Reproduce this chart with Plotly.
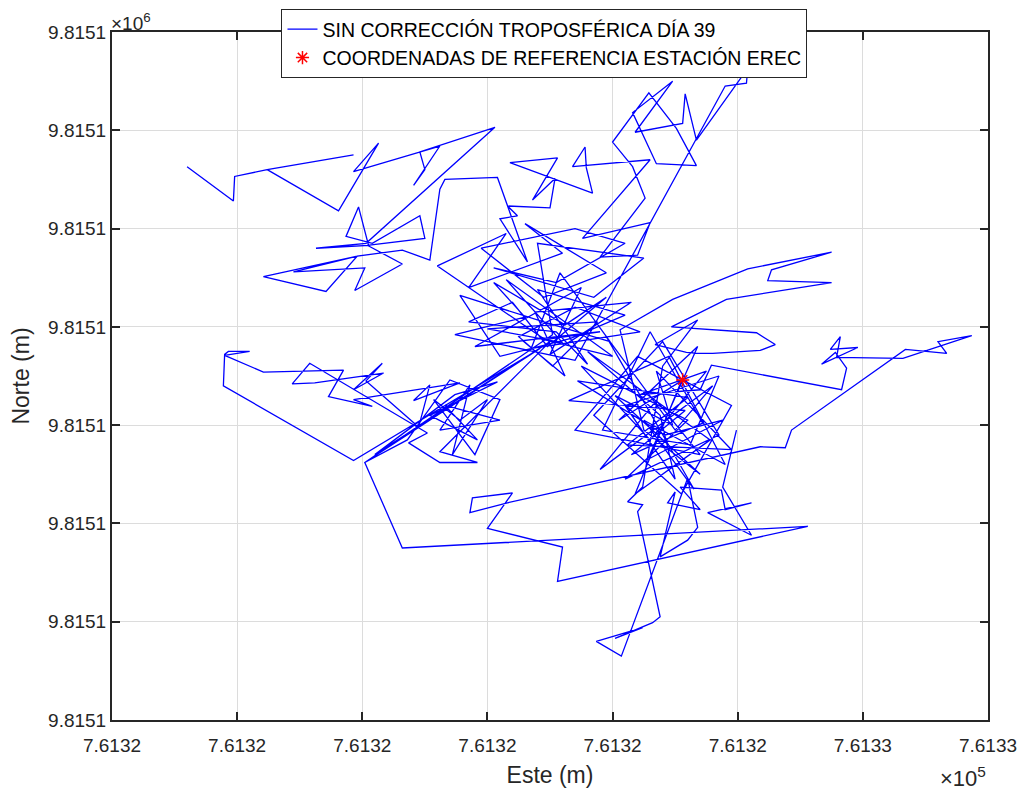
import plotly.graph_objects as go

# Reference origin of the local grid (metres, UTM)
E0 = 761319.2
N0 = 9815096.0

# Track positions as (east offset m, north offset m) from (E0, N0), in time order
seg_a = [(0.60,5.63),(0.97,5.28),(0.98,5.53),(1.24,5.60),(1.93,5.75),(1.24,5.60),(1.81,5.18),(2.13,5.87),
         (1.93,5.58),(2.62,5.84),(2.41,5.44),(2.50,5.60),(2.46,5.78),(3.06,6.03),(2.03,4.85)]
seg_b = [(1.63,4.80),(2.05,4.83),(1.97,5.22),(1.87,4.92),(2.08,4.85),(2.46,5.13),(2.50,4.90),(2.04,4.83),
         (2.32,4.64),(1.94,4.37),(2.02,4.60),(1.45,4.56),(1.96,4.72),(1.21,4.51),(1.71,4.36),(1.96,4.72),
         (2.32,4.78),(2.54,4.68)]
seg_c = [(2.62,5.40),(2.66,5.50),(3.08,5.52),(3.32,4.66),(3.10,5.10),(3.24,5.13),(3.16,5.23),(3.50,5.21),
         (3.54,5.51),(3.36,5.29),(3.56,5.72),(3.18,5.67),(3.84,5.36),(3.79,5.62),(3.78,5.83),(3.68,5.63),
         (4.30,5.70),(3.76,4.90),(4.30,5.06),(4.20,4.73),(3.90,4.71)]
seg_d = [(4.26,5.31),(4.16,5.63),(4.00,5.88),(4.29,6.38),(4.51,6.02),(4.67,5.64),(4.35,5.66),(4.16,6.18),
         (4.48,6.50),(4.18,5.98),(4.56,6.07),(4.58,6.37),(4.67,5.90),(5.08,6.63),(5.07,6.48),(4.90,6.45),
         (3.70,3.66)]
seg_upper = [(2.74,3.92),(3.30,4.10),(3.05,4.45),(3.62,4.02),(3.95,4.30),(3.48,3.80),(3.20,4.25),(2.85,4.05),
             (3.55,3.95),(3.80,3.62),(3.40,4.38),(4.10,4.12),(3.66,3.88),(3.10,3.70),(2.78,4.32),(3.45,4.05),
             (3.98,3.85),(3.58,4.55),(3.35,3.78),(4.22,3.95),(3.70,4.20),(3.25,3.90),(3.52,3.60),(3.88,4.05),
             (3.00,3.98),(3.60,3.84),(3.15,4.48),(4.00,3.70),(3.42,3.88),(2.90,3.80),(3.75,4.40),(3.50,3.72),
             (4.15,4.25),(3.38,4.15),(3.62,3.50),(3.28,3.86),(3.90,3.95),(3.46,3.87)]
seg_upper_mid = [(2.60,4.62),(3.15,4.95),(2.85,4.40),(3.60,4.75),(3.30,5.05),(3.95,4.55),(3.45,4.30),
                 (2.95,4.80),(3.70,5.00),(4.10,4.85),(3.55,4.45),(3.05,4.60),(3.85,4.30),(4.25,4.70),
                 (3.40,4.85),(3.52,3.92)]
seg_left = [(2.02,2.62),(3.42,3.78),(1.93,2.64),(0.89,3.40),(0.90,3.72),(0.93,3.75),(1.10,3.75),(0.90,3.71),
            (1.21,3.54),(1.85,3.56),(1.73,3.29),(2.08,3.19),(1.93,3.26),(2.78,3.43),(2.41,3.25),(2.54,3.41),
            (2.45,2.98),(2.03,3.45),(2.16,3.63),(1.93,3.36),(2.17,3.53),(1.62,3.43),(1.44,3.42),(1.58,3.63),
            (2.45,2.98),(2.52,2.92),(2.37,2.82),(2.62,2.62),(2.92,2.62),(2.62,2.73),(3.50,3.85),(2.10,2.70)]
seg_left_mid = [(2.74,3.31),(3.08,3.44),(2.54,3.10),(2.92,2.85),(2.66,3.20),(3.10,3.05),(2.62,2.95),
                (2.86,3.41),(2.72,2.70),(3.00,3.26),(2.78,3.05),(2.57,3.26),(2.90,2.70),(3.10,3.26),
                (2.70,3.46),(2.36,2.85),(2.02,2.62)]
seg_bottom_left = [(2.32,1.75),(5.56,1.97),(3.56,1.41),(3.60,1.76),(3.00,1.95),(3.20,2.31),(2.88,2.26),
                   (2.86,2.11),(3.16,2.21)]
seg_right = [(5.18,2.78),(5.38,2.77),(5.43,2.95),(6.34,3.77),(6.67,3.73),(6.60,3.85),(6.87,3.91),(6.32,3.68),
             (5.79,3.69),(5.82,3.90),(5.74,3.77),(5.96,3.79),(5.67,3.62),(5.78,3.74),(5.87,3.58),(5.83,3.36),
             (4.79,3.61),(4.70,3.36)]
seg_core = [(4.22,3.31),(4.75,3.55),(4.30,2.85),(3.75,3.60),(4.60,3.05),(4.10,2.45),(4.85,2.90),(4.40,3.85),
            (3.85,3.10),(4.55,2.30),(4.95,3.20),(4.20,3.70),(3.70,2.95),(4.70,2.70),(4.35,3.25),(3.90,2.55),
            (4.80,3.40),(4.50,2.95),(3.95,3.90),(4.65,2.35),(4.25,3.05),(4.90,2.60),(4.45,3.70),(3.65,3.25),
            (4.58,3.15),(4.15,2.70),(4.72,3.02),(4.30,3.95),(3.92,2.95),(4.62,2.80),(4.85,3.50),(4.10,3.20),
            (4.50,2.45),(4.38,3.10),(3.80,3.75),(4.78,2.85),(4.18,2.30),(4.55,3.45),(4.05,3.05),(4.68,3.80),
            (4.28,2.65),(4.88,3.05),(4.42,2.90),(3.72,3.45),(4.60,3.28),(4.12,2.80),(4.95,2.75),(4.35,3.55),
            (4.48,3.00),(4.02,3.30),(4.70,2.50),(4.25,2.95)]
seg_right_up = [(4.06,3.97),(4.48,4.28),(5.08,4.59),(5.75,4.76),(5.27,4.58),(5.24,4.47),(5.75,4.45),(4.91,4.28),
                (4.47,4.00),(5.15,3.94),(5.30,3.82),(5.18,3.76),(4.80,3.73),(4.68,3.73),(4.59,3.74),(4.34,3.82),
                (4.68,4.07),(4.40,3.60)]
seg_bottom = [(4.24,2.37),(4.12,2.22),(4.24,2.19),(4.20,2.12),(4.38,1.05),(4.32,0.99),(4.02,0.83),(4.24,0.94),
              (3.87,0.80),(4.07,0.65),(4.60,2.46),(4.68,1.96),(4.60,1.83),(4.38,1.66),(4.50,2.32),(4.44,2.21),
              (4.70,2.14),(4.54,2.37),(4.87,2.34),(4.90,2.14),(5.11,2.21),(4.76,2.11),(5.11,1.88),(4.88,2.37),
              (4.99,2.95)]

# Reference coordinates of station EREC (offsets from E0, N0)
station_offset = (4.56, 3.46)

segments = [seg_a, seg_b, seg_c, seg_d, seg_upper, seg_upper_mid, seg_left, seg_left_mid, seg_bottom_left,
            seg_right, seg_core, seg_right_up, seg_bottom]
pts = [p for s in segments for p in s]
east = [E0 + p[0] for p in pts]
north = [N0 + p[1] for p in pts]

x_ticks = [E0 + k for k in range(8)]
y_ticks = [N0 + k for k in range(8)]
x_ticktext = [f"{v / 1e5:.4f}" for v in x_ticks]
y_ticktext = [f"{v / 1e6:.4f}" for v in y_ticks]

FONT = "Liberation Sans, Arial, Helvetica, sans-serif"
DARK = "#262626"

fig = go.Figure()
fig.add_trace(go.Scatter(
    x=east, y=north, mode="lines",
    line=dict(color="#0000ff", width=1.3),
    name="SIN CORRECCIÓN TROPOSFÉRICA DÍA 39"))
fig.add_trace(go.Scatter(
    x=[E0 + station_offset[0]], y=[N0 + station_offset[1]], mode="markers",
    marker=dict(symbol="asterisk", size=11, color="#ff0000", line=dict(color="#ff0000", width=1.5)),
    name="COORDENADAS DE REFERENCIA ESTACIÓN EREC"))

axis_common = dict(
    showgrid=True, gridcolor="#dcdcdc", gridwidth=1,
    showline=True, linecolor=DARK, linewidth=2, mirror="ticks",
    ticks="inside", ticklen=8, tickwidth=1.5, tickcolor=DARK,
    zeroline=False, automargin=False,
    tickfont=dict(family=FONT, size=19, color=DARK),
)

# The page body adds an 8 px offset, so the figure is 8 px smaller than the window
fig.update_layout(
    width=1017, height=786,
    margin=dict(l=104, r=37, t=24, b=74, autoexpand=False),
    paper_bgcolor="white", plot_bgcolor="white",
    font=dict(family=FONT, color=DARK),
    xaxis=dict(range=[E0, E0 + 7], tickmode="array", tickvals=x_ticks, ticktext=x_ticktext,
               ticklabelstandoff=7,
               title=dict(text="Este (m)", font=dict(family=FONT, size=23, color=DARK), standoff=12),
               **axis_common),
    yaxis=dict(range=[N0, N0 + 7], tickmode="array", tickvals=y_ticks, ticktext=y_ticktext,
               title=dict(text="Norte (m)", font=dict(family=FONT, size=23, color=DARK), standoff=13),
               **axis_common),
    legend=dict(x=0.4937, y=1.0334, xanchor="center", yanchor="top",
                bgcolor="white", bordercolor=DARK, borderwidth=1,
                font=dict(family=FONT, size=19.5, color="#000000"), tracegroupgap=0),
    showlegend=True,
    annotations=[
        dict(text="×10<sup>6</sup>", xref="paper", yref="paper", x=-0.003, y=1.035, xanchor="left",
             yanchor="top", showarrow=False, font=dict(family=FONT, size=19, color=DARK)),
        dict(text="×10<sup>5</sup>", xref="paper", yref="paper", x=1.0, y=-0.06, xanchor="right",
             yanchor="top", showarrow=False, font=dict(family=FONT, size=22, color=DARK)),
    ],
)

fig.write_html("out.html")
